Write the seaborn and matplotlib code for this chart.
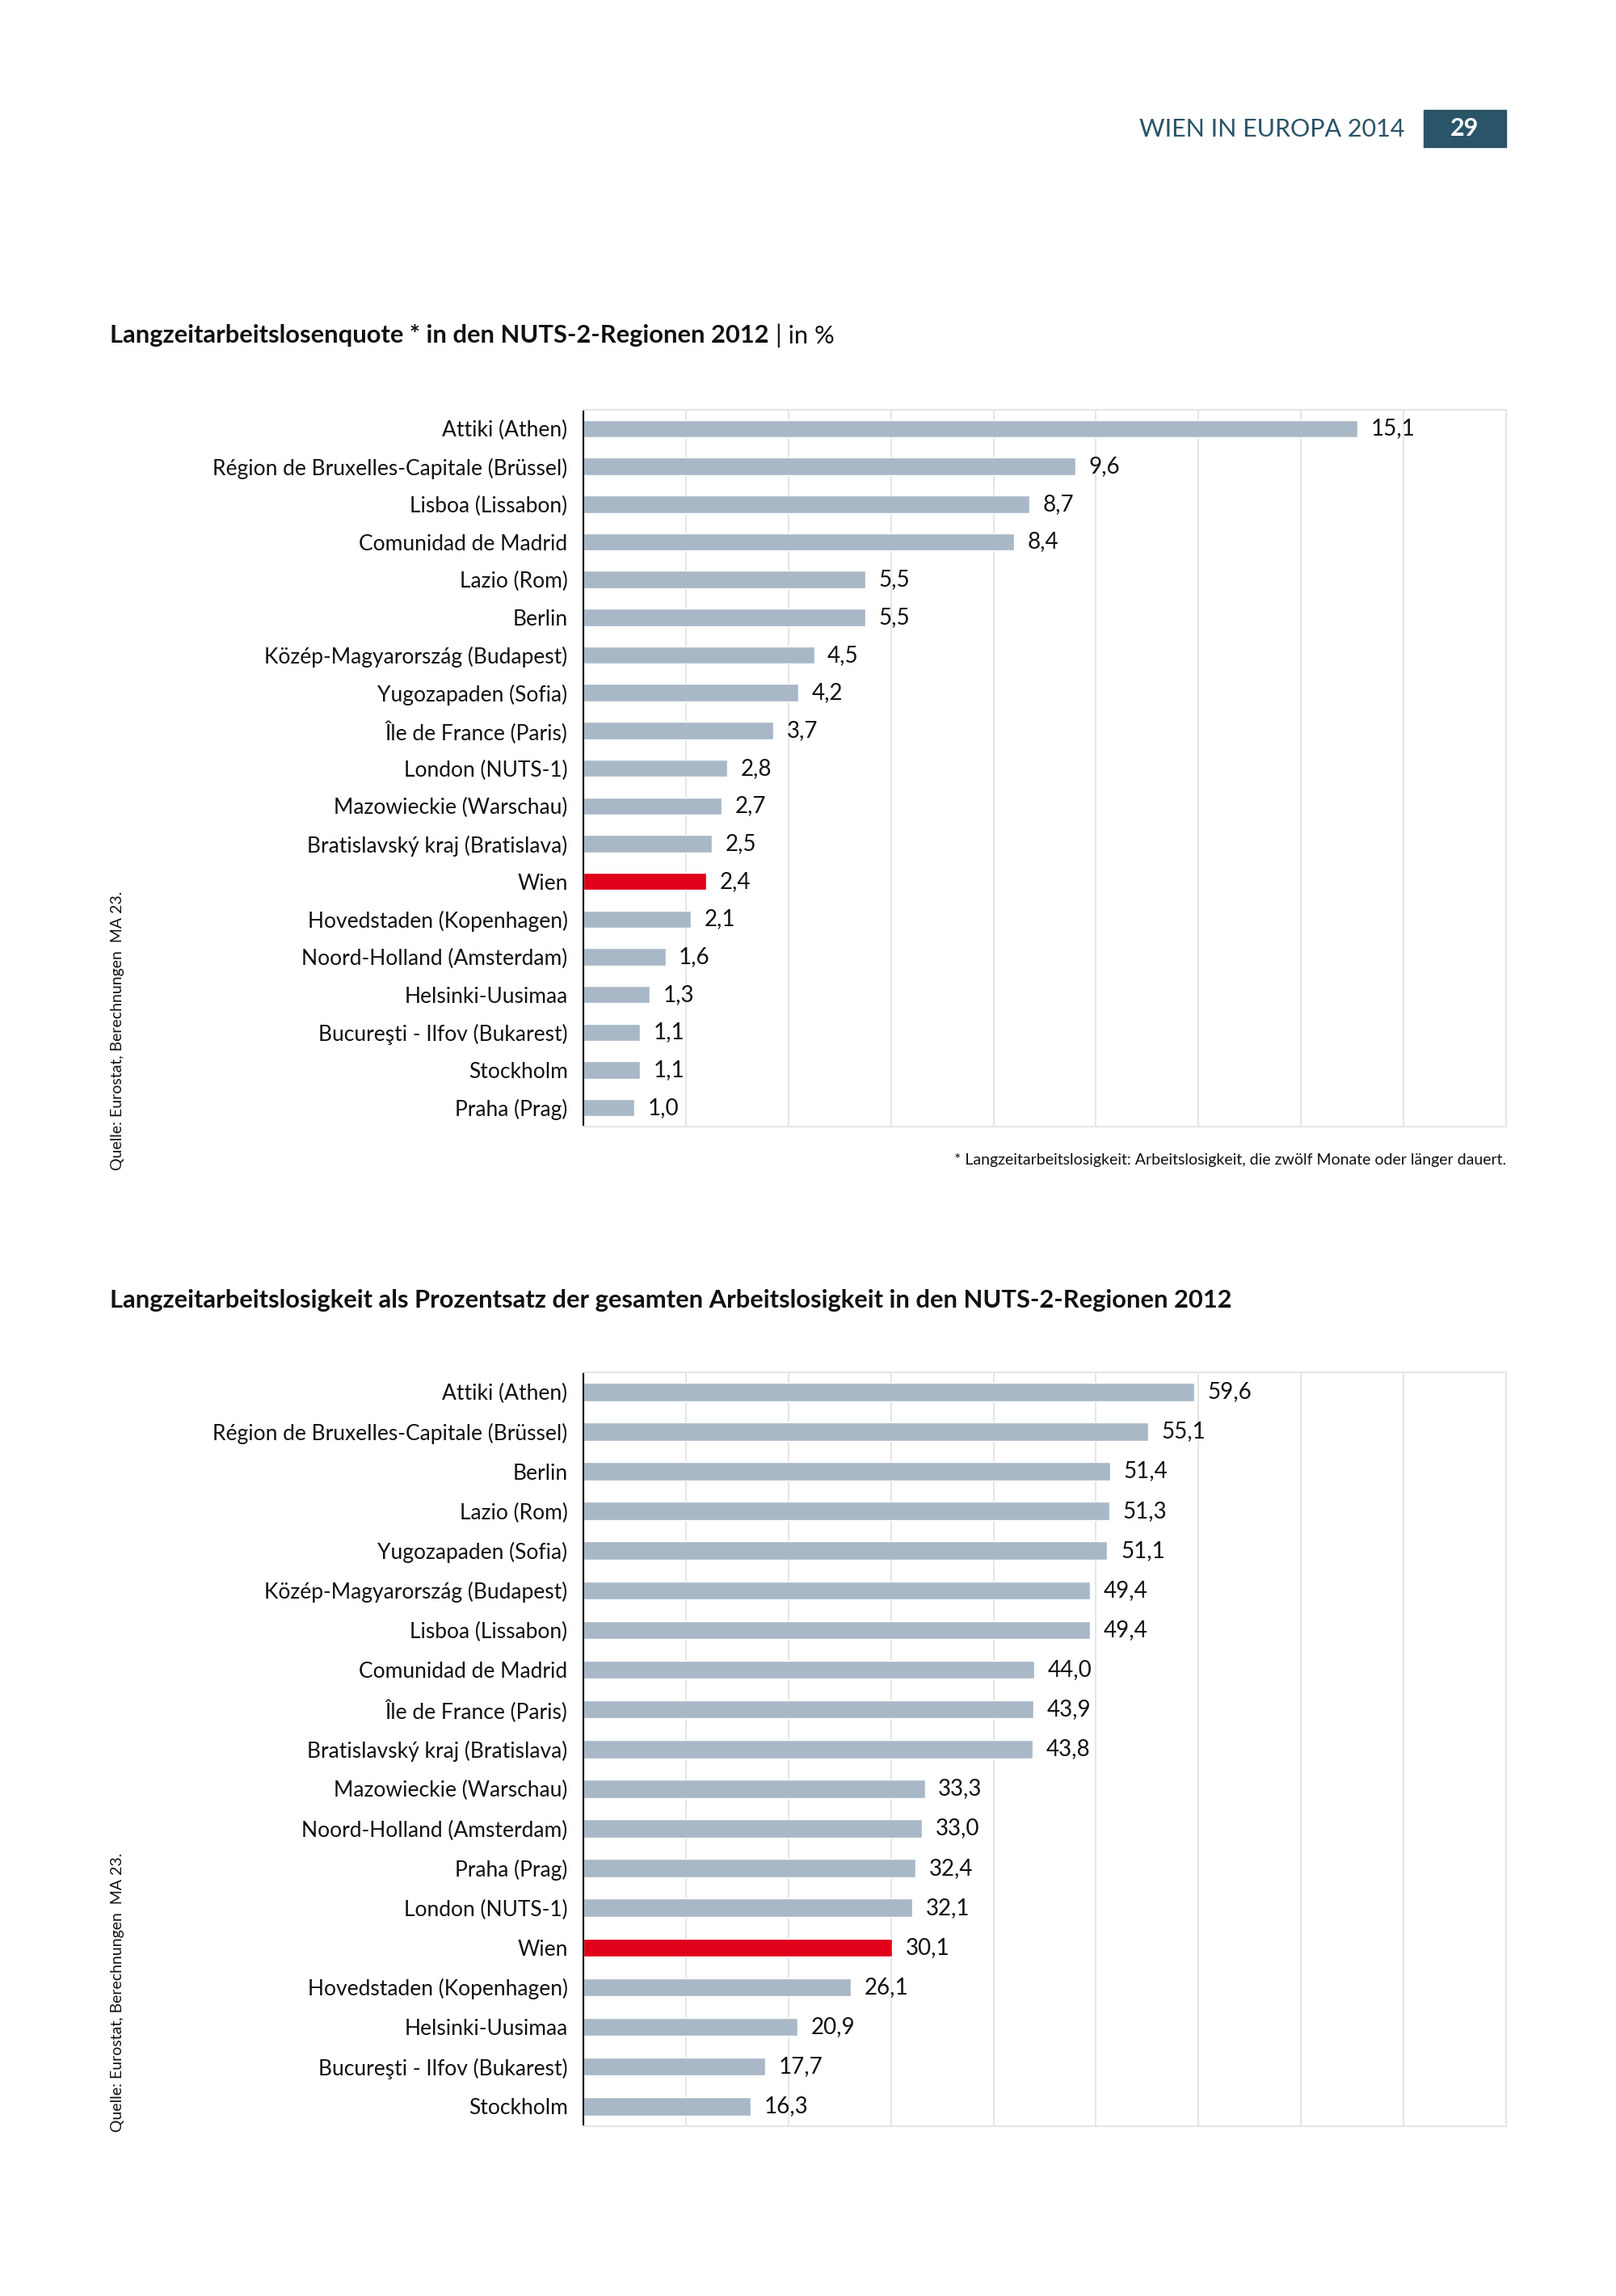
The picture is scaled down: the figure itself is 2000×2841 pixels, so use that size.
import matplotlib
matplotlib.use("Agg")
import matplotlib.pyplot as plt
import seaborn as sns
import pandas as pd

# chart 1: Langzeitarbeitslosenquote in %
regions_1 = ["Attiki (Athen)", "Région de Bruxelles-Capitale (Brüssel)", "Lisboa (Lissabon)",
             "Comunidad de Madrid", "Lazio (Rom)", "Berlin", "Közép-Magyarország (Budapest)",
             "Yugozapaden (Sofia)", "Île de France (Paris)", "London (NUTS-1)",
             "Mazowieckie (Warschau)", "Bratislavský kraj (Bratislava)", "Wien",
             "Hovedstaden (Kopenhagen)", "Noord-Holland (Amsterdam)", "Helsinki-Uusimaa",
             "Bucureşti - Ilfov (Bukarest)", "Stockholm", "Praha (Prag)"]
values_1 = [15.1, 9.6, 8.7, 8.4, 5.5, 5.5, 4.5, 4.2, 3.7, 2.8, 2.7, 2.5, 2.4, 2.1, 1.6, 1.3, 1.1, 1.1, 1.0]

# chart 2: Anteil an der gesamten Arbeitslosigkeit in %
regions_2 = ["Attiki (Athen)", "Région de Bruxelles-Capitale (Brüssel)", "Berlin", "Lazio (Rom)",
             "Yugozapaden (Sofia)", "Közép-Magyarország (Budapest)", "Lisboa (Lissabon)",
             "Comunidad de Madrid", "Île de France (Paris)", "Bratislavský kraj (Bratislava)",
             "Mazowieckie (Warschau)", "Noord-Holland (Amsterdam)", "Praha (Prag)",
             "London (NUTS-1)", "Wien", "Hovedstaden (Kopenhagen)", "Helsinki-Uusimaa",
             "Bucureşti - Ilfov (Bukarest)", "Stockholm"]
values_2 = [59.6, 55.1, 51.4, 51.3, 51.1, 49.4, 49.4, 44.0, 43.9, 43.8, 33.3, 33.0, 32.4, 32.1, 30.1, 26.1, 20.9, 17.7, 16.3]

title_1 = "Langzeitarbeitslosenquote * in den NUTS-2-Regionen 2012"
title_2 = "Langzeitarbeitslosigkeit als Prozentsatz der gesamten Arbeitslosigkeit in den NUTS-2-Regionen 2012"
footnote = "* Langzeitarbeitslosigkeit: Arbeitslosigkeit, die zwölf Monate oder länger dauert."
source = "Quelle: Eurostat, Berechnungen  MA 23."

BAR = "#a9b8c7"
RED = "#e2001a"
TEAL = "#2a5468"
GRID = "#e6e6e6"

sns.set_theme(style="white")
plt.rcParams["font.family"] = ["Lato", "DejaVu Sans"]
plt.rcParams["text.color"] = "#111111"

fig = plt.figure(figsize=(20, 28.41), dpi=100)


def draw_bars(ax, regions, values, xmax, step):
    df = pd.DataFrame({"region": regions, "value": values})
    colors = {r: (RED if r == "Wien" else BAR) for r in regions}
    sns.barplot(data=df, x="value", y="region", hue="region", palette=colors,
                legend=False, width=0.46, ax=ax, saturation=1)
    ax.set_xlim(0, xmax)
    ax.set_ylim(len(regions) - 0.5, -0.5)
    ax.set_xticks(range(0, xmax + 1, step))
    ax.set_xticklabels([])
    ax.grid(axis="x", color=GRID, linewidth=1.5)
    ax.set_axisbelow(True)
    ax.set_xlabel("")
    ax.set_ylabel("")
    ax.tick_params(axis="y", length=0, pad=14, labelsize=19, labelcolor="#111111")
    ax.tick_params(axis="x", length=0)
    for s in ["top", "right", "bottom"]:
        ax.spines[s].set_color(GRID)
        ax.spines[s].set_linewidth(1.5)
    ax.spines["left"].set_color("black")
    ax.spines["left"].set_linewidth(1.5)
    for c in ax.containers:
        ax.bar_label(c, labels=[f"{v:.1f}".replace(".", ",") for v in c.datavalues],
                     padding=12, fontsize=20, color="#111111")


ax1 = fig.add_axes([0.361, 0.5093, 0.571, 0.3122])
draw_bars(ax1, regions_1, values_1, 18, 2)

ax2 = fig.add_axes([0.361, 0.0740, 0.571, 0.3284])
draw_bars(ax2, regions_2, values_2, 90, 10)

# titles
t1 = fig.text(0.068, 1 - 415 / 2841, title_1, fontsize=22.2, fontweight="bold", va="center")
fig.canvas.draw()
bb = t1.get_window_extent()
fig.text((bb.x1 + 8) / 2000, 1 - 415 / 2841, "| in %", fontsize=22.2, va="center")
fig.text(0.068, 1 - 1609 / 2841, title_2, fontsize=22.2, fontweight="bold", va="center")

# footnote and sources
fig.text(0.932, 1 - 1436 / 2841, footnote, fontsize=14, ha="right", va="center")
fig.text(0.0725, 1 - 1275 / 2841, source, fontsize=14, rotation=90, ha="center", va="center")
fig.text(0.0725, 1 - 2465 / 2841, source, fontsize=14, rotation=90, ha="center", va="center")

# header
fig.text(0.869, 1 - 160 / 2841, "WIEN IN EUROPA 2014", fontsize=22, color=TEAL,
         ha="right", va="center")
fig.patches.append(plt.Rectangle((1762 / 2000, 1 - 182 / 2841), 102 / 2000, 46 / 2841,
                                 transform=fig.transFigure, color=TEAL, figure=fig))
fig.text(1813 / 2000, 1 - 159 / 2841, "29", fontsize=22, color="white", fontweight="bold",
         ha="center", va="center")

fig.savefig("out.png", dpi=100, facecolor="white")
